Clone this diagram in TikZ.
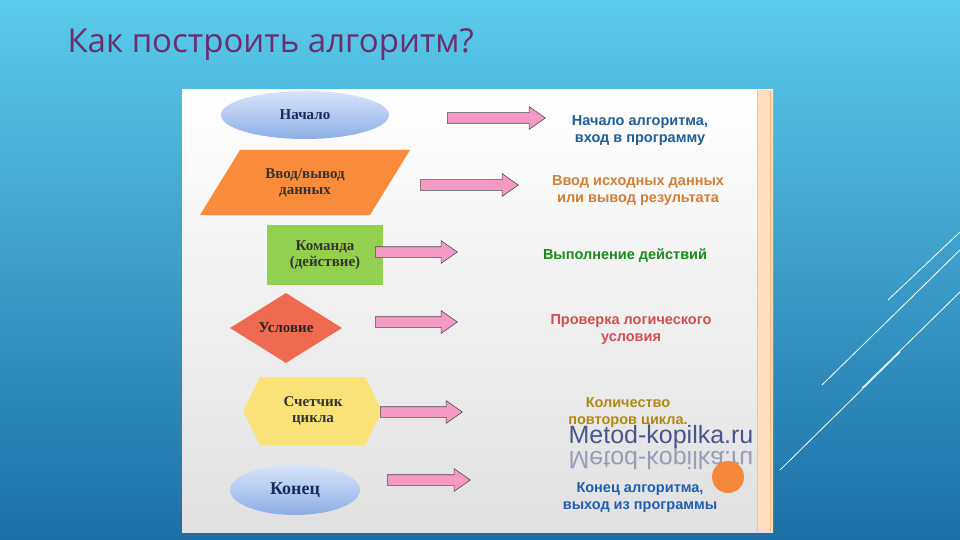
\documentclass[tikz,border=0pt]{standalone}
\usepackage{fontspec}
\setmainfont{Liberation Serif}
\newfontfamily\sansf{Liberation Sans}
\newfontfamily\titlef{Open Sans}
\usetikzlibrary{shapes.geometric,shapes.arrows}
\definecolor{ttl}{HTML}{6B2D6B}
\definecolor{bgtop}{HTML}{5ACBEB}
\definecolor{bgbot}{HTML}{1D6FA6}
\definecolor{pinka}{HTML}{F49AC4}
\definecolor{navy}{HTML}{1A2A5A}
\definecolor{cgreen}{RGB}{146,208,80}
\definecolor{cred}{RGB}{238,106,80}
\definecolor{cyel}{RGB}{250,226,120}
\definecolor{corg}{RGB}{250,140,60}
\definecolor{cblueA}{RGB}{31,95,150}
\definecolor{corgT}{RGB}{208,128,58}
\definecolor{cgrT}{RGB}{26,138,26}
\definecolor{credT}{RGB}{208,79,79}
\definecolor{colT}{RGB}{176,138,16}
\definecolor{cwm}{RGB}{74,86,138}
\definecolor{cdot}{RGB}{245,136,58}
\definecolor{cblueB}{RGB}{31,95,175}
\definecolor{elltop}{RGB}{215,228,250}
\definecolor{ellbot}{RGB}{140,175,230}
\tikzset{
  x=1pt,y=-1pt,
  shp/.style={draw=none,font=\fontsize{15}{16}\selectfont\bfseries,text=navy,align=center},
  barrow/.style={single arrow,draw=black!70,fill=pinka,line width=0.6pt,inner sep=0pt,text height=0pt,text depth=0pt,inner ysep=5pt,inner xsep=0pt,single arrow head extend=6pt,single arrow tip angle=70,anchor=west},
  desc/.style={font=\sansf\fontsize{14.5}{17}\selectfont\bfseries,align=center},
  deco/.style={white,line width=0.8pt}
}
\begin{document}
\begin{tikzpicture}
\shade[top color=bgtop,bottom color=bgbot] (0,0) rectangle (960,540);
\useasboundingbox (0,0) rectangle (960,540);
\node[anchor=west,text=ttl,font=\titlef\fontsize{33}{36}\selectfont] (title) at (64,45) {Как построить алгоритм?};
% decorative lines
\draw[deco] (822,385) -- (960,250);
\draw[deco] (862,388) -- (960,292);
\draw[deco] (888,300) -- (960,232);
\draw[deco] (780,470) -- (900,352);
% panel
\shade[top color=white,bottom color=black!12] (182,90) rectangle (773,532);
\fill[orange!25] (757,90) rectangle (773,532);
\draw[orange!50,line width=0.6pt] (757,90) -- (757,532) (770,90) -- (770,532);
% shapes
\node[shp,ellipse,minimum width=168,minimum height=48,top color=elltop,bottom color=ellbot] (start) at (305,115) {Начало};
\fill[corg] (200,215) -- (240,150) -- (410,150) -- (370,215) -- cycle;
\node[shp,text=black!80] (io) at (305,183) {Ввод/вывод\\данных};
\node[shp,rectangle,fill=cgreen,minimum width=116,minimum height=60,text=black!80] (cmd) at (325,255) {Команда\\(действие)};
\node[shp,diamond,fill=cred,minimum width=112,minimum height=70,aspect=1.6,inner sep=0pt,text=black!85] (cond) at (286,328) {Условие};
\fill[cyel] (243,411) -- (260,377) -- (365,377) -- (382,411) -- (365,445) -- (260,445) -- cycle;
\node[shp,text=black!80] (cnt) at (313,411) {Счетчик\\цикла};
\node[shp,ellipse,minimum width=130,minimum height=50,top color=elltop,bottom color=ellbot,font=\fontsize{18}{18}\selectfont\bfseries] (end) at (295,490) {Конец};
% arrows
\node[barrow,minimum height=98] (a1) at (447,118) {};
\node[barrow,minimum height=98] (a2) at (420,185) {};
\node[barrow,minimum height=82] (a3) at (375,252) {};
\node[barrow,minimum height=82] (a4) at (375,322) {};
\node[barrow,minimum height=82] (a5) at (380,412) {};
\node[barrow,minimum height=83] (a6) at (387,480) {};
% descriptions
\node[desc,text=cblueA] (d1) at (640,131) {Начало алгоритма,\\вход в программу};
\node[desc,text=corgT] (d2) at (638,191) {Ввод исходных данных\\или вывод результата};
\node[desc,text=cgrT] (d3) at (625,256) {Выполнение действий};
\node[desc,text=credT] (d4) at (631,330) {Проверка логического\\условия};
\node[desc,text=colT] (d5) at (628,413) {Количество\\повторов цикла.};
\node[text=cwm,font=\sansf\fontsize{25}{25}\selectfont] (wm) at (661,437) {Metod-kopilka.ru};
\node[yscale=-1,text=cwm,opacity=0.5,font=\sansf\fontsize{25}{25}\selectfont] (wm2) at (661,458) {Metod-kopilka.ru};
\fill[cdot] (728,477) circle (16);
\node[desc,text=cblueB] (d6) at (640,498) {Конец алгоритма,\\выход из программы};
\end{tikzpicture}
\end{document}
